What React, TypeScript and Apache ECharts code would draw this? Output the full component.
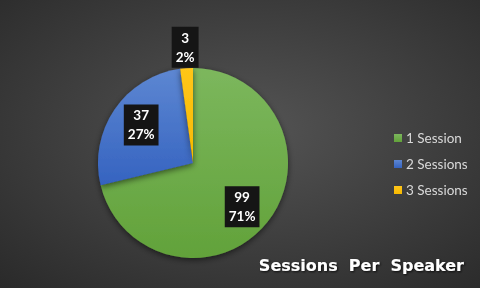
import React, { useEffect, useRef } from "react";
import * as echarts from "echarts";

const categories = ["1 Session", "2 Sessions", "3 Sessions"];
const values = [99, 37, 3];
const percents = [71, 27, 2];
const titleText = "Sessions  Per  Speaker";

const sliceColors = [
  ["#7cb75d", "#62a23a"],
  ["#5d87d2", "#3563c0"],
  ["#ffc61a", "#f7b900"],
];

// small nudges for the value labels
const labelOffsets: [number, number][] = [
  [-4, 2],
  [4, 0],
  [0, 0],
];

const FONT = "Lato, 'Noto Sans', sans-serif";
const CENTER: [number, number] = [193, 163];
const R = 95;

export default function App() {
  const ref = useRef<HTMLDivElement>(null);

  useEffect(() => {
    if (!ref.current) return;
    const chart = echarts.init(ref.current, null, { renderer: "svg" });

    const sliceData = categories.map((name, i) => ({
      name,
      value: values[i],
      itemStyle: {
        color: new echarts.graphic.LinearGradient(0, 0, 0, 1, [
          { offset: 0, color: sliceColors[i][0] },
          { offset: 1, color: sliceColors[i][1] },
        ]),
      },
    }));

    const labelStyle = {
      show: true,
      formatter: (p: any) => `${p.value}\n${percents[p.dataIndex]}%`,
      color: "#ffffff",
      fontFamily: FONT,
      fontWeight: "bold" as const,
      fontSize: 13.5,
      lineHeight: 19,
      align: "center" as const,
      backgroundColor: "#151515",
      padding: [2, 4, 1, 4],
    };

    // invisible rings used only to place the value labels
    const labelRing = (radius: [number, number], shown: number[]) => ({
      type: "pie" as const,
      center: CENTER,
      radius,
      startAngle: 90,
      clockwise: true,
      silent: true,
      legendHoverLink: false,
      tooltip: { show: false },
      itemStyle: { color: "transparent" },
      emphasis: { disabled: true },
      labelLine: { show: false },
      data: categories.map((name, i) => ({
        name: name + " ",
        value: values[i],
        itemStyle: { color: "transparent" },
        label: shown.includes(i)
          ? { ...labelStyle, position: "inside" as const, offset: labelOffsets[i] }
          : { show: false },
      })),
    });

    chart.setOption({
      animation: false,
      backgroundColor: {
        type: "radial",
        x: 0.52,
        y: 0.45,
        r: 0.95,
        colorStops: [
          { offset: 0, color: "#545454" },
          { offset: 1, color: "#1f1f1f" },
        ],
      },
      title: {
        text: titleText,
        right: 11,
        top: 252,
        textStyle: {
          color: "#ffffff",
          fontFamily: "'DejaVu Sans', sans-serif",
          fontWeight: "bold",
          fontSize: 16,
          textShadowColor: "rgba(0,0,0,0.8)",
          textShadowBlur: 2,
          textShadowOffsetX: 1,
          textShadowOffsetY: 1,
        },
      },
      legend: {
        orient: "vertical",
        left: 394,
        top: 131,
        padding: 0,
        itemWidth: 8,
        itemHeight: 8,
        itemGap: 12,
        icon: "rect",
        data: categories,
        textStyle: {
          color: "#d9d9d9",
          fontFamily: FONT,
          fontSize: 13.5,
          padding: [0, 0, 0, -1],
        },
      },
      series: [
        {
          type: "pie",
          center: CENTER,
          radius: [0, R],
          startAngle: 90,
          clockwise: true,
          label: { show: false },
          labelLine: { show: false },
          itemStyle: {
            shadowColor: "rgba(0,0,0,0.55)",
            shadowBlur: 6,
            shadowOffsetY: 2,
          },
          emphasis: { disabled: true },
          data: sliceData,
        },
        labelRing([R * 0.36, R], [0, 1]),
        labelRing([R * 1.02, R * 1.36], [2]),
      ],
    });

    return () => chart.dispose();
  }, []);

  return (
    <div
      ref={ref}
      style={{ position: "fixed", left: 0, top: 0, width: 480, height: 288 }}
    />
  );
}
